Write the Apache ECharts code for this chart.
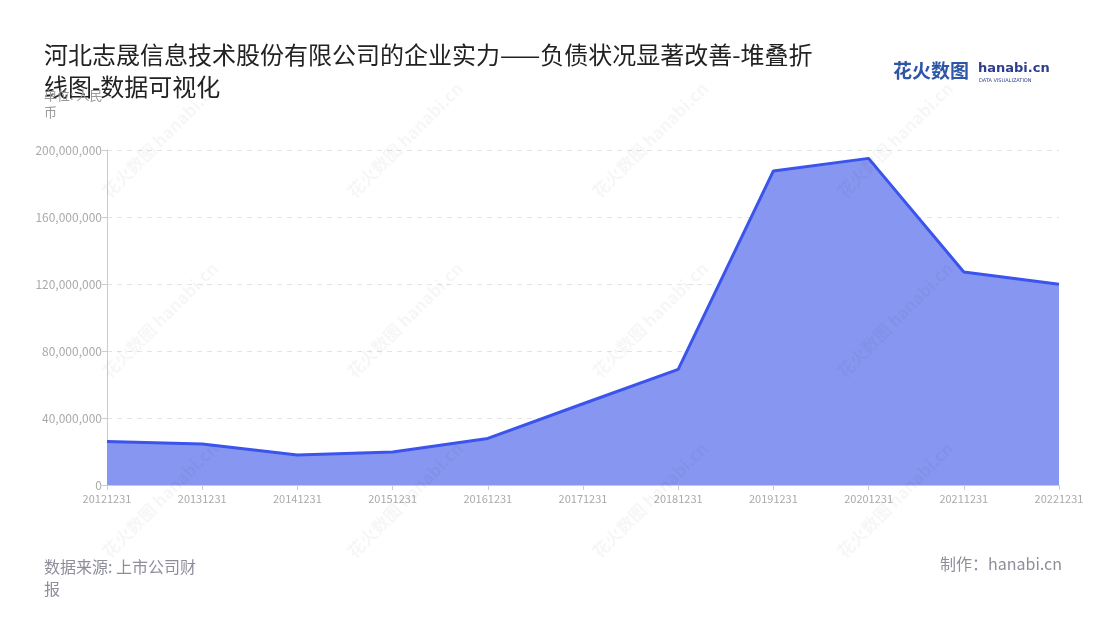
<!DOCTYPE html>
<html><head><meta charset="utf-8">
<script src="https://cdn.jsdelivr.net/npm/echarts@6/dist/echarts.min.js"></script>
<style>html,body{margin:0;padding:0;background:#fff}#c{width:1100px;height:620px}</style>
</head><body><div id="c"></div>
<script>
const categories = ['20121231','20131231','20141231','20151231','20161231','20171231','20181231','20191231','20201231','20211231','20221231'];
const values = [25900000, 24500000, 17900000, 19700000, 27800000, 48500000, 69000000, 187500000, 195000000, 127200000, 119800000];
const yTicks = {min: 0, max: 200000000, interval: 40000000};
const titleText = '河北志晟信息技术股份有限公司的企业实力——负债状况显著改善-堆叠折线图-数据可视化';
const unitText = '单位: 人民币';
const sourceText = '数据来源: 上市公司财报';
const makerText = '制作：hanabi.cn';

const chart = echarts.init(document.getElementById('c'), null, {renderer: 'canvas'});
const font = '"Noto Sans CJK SC","Noto Sans",sans-serif';
const wm = [];
const wmPos = [[160,140],[405,140],[650,140],[895,140],[160,320],[405,320],[650,320],[895,320],[160,500],[405,500],[650,500],[895,500]];
wmPos.forEach(p => wm.push({type:'text', x:p[0], y:p[1], rotation: Math.PI/4, z: 100, silent:true,
  style:{text:'花火数图 hanabi.cn', font:'bold 17px ' + font, fill:'rgba(0,0,0,0.035)', align:'center', verticalAlign:'middle'}}));

chart.setOption({
  backgroundColor: '#fff',
  animation: false,
  grid: {left: 107, right: 41, top: 150, bottom: 135},
  xAxis: {
    type: 'category', data: categories, boundaryGap: false,
    axisLine: {lineStyle: {color: '#ccc'}},
    axisTick: {show: true, lineStyle: {color: '#ccc'}},
    axisLabel: {color: '#aaa', fontSize: 11, fontFamily: font, margin: 8}
  },
  yAxis: {
    type: 'value', min: yTicks.min, max: yTicks.max, interval: yTicks.interval,
    axisLine: {show: true, lineStyle: {color: '#ccc'}},
    axisTick: {show: true, lineStyle: {color: '#ccc'}},
    axisLabel: {color: '#aaa', fontSize: 12, fontFamily: font, margin: 5,
      formatter: v => v.toLocaleString('en-US')},
    splitLine: {lineStyle: {color: '#e3e3e3', type: [5, 5]}}
  },
  series: [{
    type: 'line', data: values, stack: 'total', symbol: 'none',
    lineStyle: {color: '#3a54ec', width: 3},
    areaStyle: {color: '#8796f1', opacity: 1}
  }],
  graphic: [
    {type:'text', left: 44, top: 39, style:{text: titleText, width: 790, overflow:'break', font: '24px ' + font, fill:'#222', lineHeight: 32}},
    {type:'text', left: 44, top: 87, style:{text: unitText, width: 76, overflow:'break', font: '13px ' + font, fill:'#999', lineHeight: 17}},
    {type:'text', left: 44, top: 556, style:{text: sourceText, width: 160, overflow:'break', font: '16px ' + font, fill:'#8e8e9a', lineHeight: 22}},
    {type:'text', right: 38, top: 556, style:{text: makerText, font: '16px ' + font, fill:'#8e8e9a'}},
    {type:'text', left: 893, top: 61, style:{text: '花火数图', font: 'bold 19px ' + font, fill:'#2d55a8'}},
    {type:'text', left: 978, top: 62, style:{text: 'hanabi.cn', font: 'bold 13px "DejaVu Sans",sans-serif', fill:'#2d3e8f'}},
    {type:'text', left: 979, top: 78, style:{text: 'DATA VISUALIZATION', font: '5px "DejaVu Sans",sans-serif', fill:'#2d3e8f'}}
  ].concat(wm)
});
</script></body></html>
